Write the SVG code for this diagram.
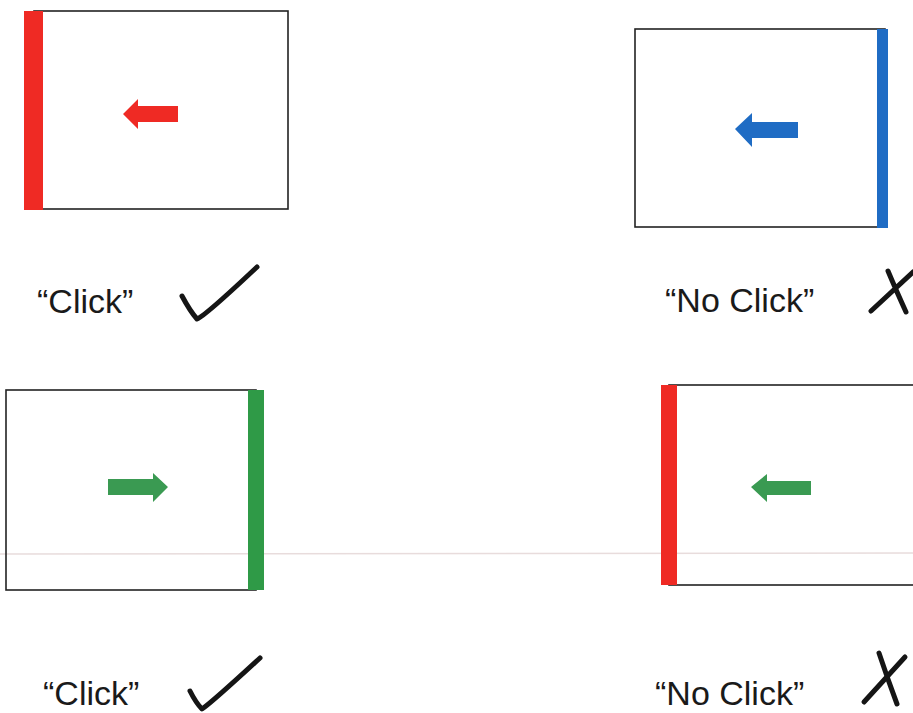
<svg xmlns="http://www.w3.org/2000/svg" width="913" height="713" viewBox="0 0 913 713">
<style>
.frame{fill:none;stroke:#222;stroke-width:1.6}
.red{fill:#ef2a24}
.blue{fill:#1f6cc4}
.green{fill:#2f9a47}
.garrow{fill:#3a9a52}
.lbl{font-family:"Liberation Sans",Arial,sans-serif;font-size:34px;fill:#1a1a1a}
.mark{fill:none;stroke:#151515;stroke-width:5;stroke-linecap:round;stroke-linejoin:round}
</style>
<rect width="913" height="713" fill="#fff"/>
<line x1="0" y1="554" x2="913" y2="553" stroke="#e8dcdc" stroke-width="1.5"/>

<g id="panel1">
<rect class="frame" x="34" y="11" width="254" height="198"/>
<rect class="red" x="24" y="11" width="19" height="199"/>
<polygon class="red" points="123,114 138,99 138,106 178,106 178,122 138,122 138,129"/>
</g>
<g id="label1">
<text class="lbl" x="37" y="313">“Click”</text>
<path class="mark" d="M182,296 Q190,311 197,319 Q205,316 257,267"/>
</g>

<g id="panel2">
<rect class="frame" x="635" y="29" width="250" height="198"/>
<rect class="blue" x="877" y="29" width="11" height="199"/>
<polygon class="blue" points="735,129 752,113 752,122 798,122 798,138 752,138 752,147"/>
</g>
<g id="label2">
<text class="lbl" x="665" y="312">“No Click”</text>
<path class="mark" d="M871,311 L913,272 M888,271 Q896,290 906,312"/>
</g>

<g id="panel3">
<rect class="frame" x="6" y="390" width="250" height="200"/>
<rect class="green" x="248" y="390" width="16" height="200"/>
<polygon class="garrow" points="168,487 153,473 153,479 108,479 108,495 153,495 153,502"/>
</g>
<g id="label3">
<text class="lbl" x="43" y="705">“Click”</text>
<path class="mark" d="M190,691 Q196,703 202,709 Q210,704 260,658"/>
</g>

<g id="panel4">
<rect class="frame" x="669" y="385" width="260" height="200"/>
<rect class="red" x="661" y="385" width="16" height="200"/>
<polygon class="garrow" points="751,487 767,474 767,481 811,481 811,495 767,495 767,502"/>
</g>
<g id="label4">
<text class="lbl" x="655" y="705">“No Click”</text>
<path class="mark" d="M864,702 L905,657 M879,653 Q888,680 897,704"/>
</g>
</svg>
